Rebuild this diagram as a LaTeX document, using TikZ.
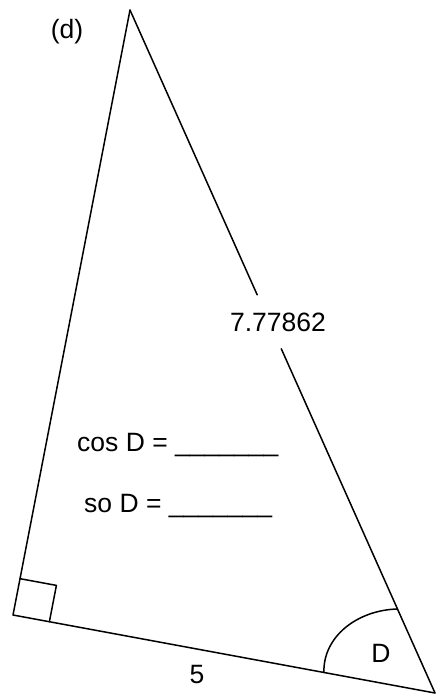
\documentclass[tikz,border=0pt]{standalone}
\usepackage{fontspec}
\setmainfont{Liberation Sans}
\usetikzlibrary{calc}
\begin{document}
\begin{tikzpicture}[x=1pt,y=-1pt,
  edge/.style={line width=1.5pt, line cap=round, line join=round},
  lbl/.style={font=\fontsize{26.5}{30}\selectfont, inner sep=0pt}]
\useasboundingbox (0,0) rectangle (436,695);
\coordinate (A) at (130,10);
\coordinate (B) at (13,615);
\coordinate (C) at (435,693);
% legs
\draw[edge] (A) -- (B) -- (C);
% hypotenuse with a gap for the label
\coordinate (G1) at ($(A)!0.417!(C)$);
\coordinate (G2) at ($(A)!0.496!(C)$);
\draw[edge] (A) -- (G1);
\draw[edge] (G2) -- (C);
\node[lbl] (hyp) at (278,322) {7.77862};
% right angle mark
\coordinate (R1) at ($(B)!37pt!(A)$);
\coordinate (R2) at ($(B)!37pt!(C)$);
\coordinate (R3) at ($(R1)+(R2)-(B)$);
\draw[edge] (R1) -- (R3) -- (R2);
% angle arc at D
\coordinate (D1) at ($(C)!113pt!(B)$);
\coordinate (D2) at ($(C)!92pt!(A)$);
\draw[edge] (D1) .. controls (323,636) and (358,610) .. (D2);
% labels
\node[lbl] (tag) at (67,32) {(d)};
\node[lbl] (base) at (197,675) {5};
\node[lbl] (ang) at (381,653) {D};
\node[lbl, anchor=base west] (cosl) at (77,451) {cos D = \_\_\_\_\_\_\_};
\node[lbl, anchor=base west] (sol) at (84,512) {so D = \_\_\_\_\_\_\_};
\end{tikzpicture}
\end{document}
